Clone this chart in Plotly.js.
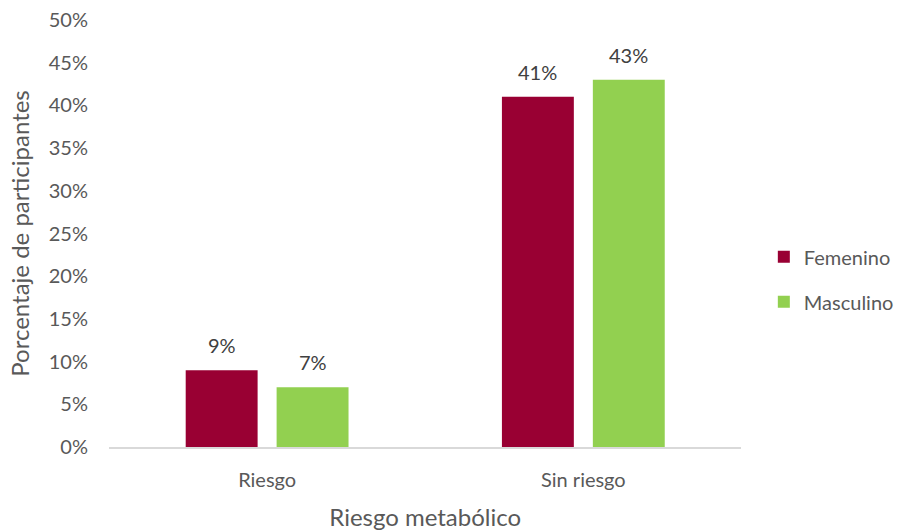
<!DOCTYPE html>
<html>
<head>
<meta charset="utf-8">
<script src="https://cdn.plot.ly/plotly-3.0.1.min.js"></script>
<style>html,body{margin:0;padding:0;background:#fff;}#chart{width:907px;height:531px;}</style>
</head>
<body>
<div id="chart"></div>
<script>
const categories = ["Riesgo", "Sin riesgo"];
const femenino = [0.09, 0.41];
const masculino = [0.07, 0.43];
const seriesNames = ["Femenino", "Masculino"];

const fontFam = "Lato, 'Open Sans', sans-serif";
const txtColor = "#595959";

const traces = [
  {type: "bar", name: seriesNames[0], x: categories, y: femenino, legendgroup: "f",
   marker: {color: "#990033"}, hoverinfo: "none"},
  {type: "bar", name: seriesNames[1], x: categories, y: masculino, legendgroup: "m",
   marker: {color: "#92D050"}, hoverinfo: "none"}
];

const annotations = [];
[femenino, masculino].forEach((vals, si) => {
  vals.forEach((v, i) => {
    annotations.push({
      x: categories[i], y: v, xref: "x", yref: "y",
      text: Math.round(v * 100) + "%", showarrow: false,
      xanchor: "center", yanchor: "bottom",
      xshift: si === 0 ? -45.6 : 45.6, yshift: 11,
      font: {size: 20, color: "#404040", family: fontFam}
    });
  });
});

const layout = {
  width: 907, height: 531,
  margin: {l: 109, r: 8, t: 20, b: 84},
  paper_bgcolor: "#fff", plot_bgcolor: "#fff",
  font: {family: fontFam, color: txtColor, size: 20},
  barmode: "group", bargap: 0.425, bargroupgap: 0.209,
  showlegend: true,
  annotations: annotations,
  legend: {x: 0.831, xanchor: "left", y: 0.393, yanchor: "middle", traceorder: "grouped", tracegroupgap: 16,
           font: {size: 20, color: txtColor, family: fontFam}},
  xaxis: {
    domain: [0, 0.8026],
    title: {text: "Riesgo metabólico", font: {size: 24, color: txtColor}, standoff: 19},
    showline: true, linecolor: "#d9d9d9", linewidth: 1.5, ticks: "", showgrid: false,
    tickfont: {size: 20, color: txtColor}, ticklabelstandoff: 14
  },
  yaxis: {
    title: {text: "Porcentaje de participantes", font: {size: 24, color: txtColor}, standoff: 12},
    range: [0, 0.5], dtick: 0.05, tick0: 0, tickformat: ".0%",
    showgrid: false, zeroline: false, showline: false, ticks: "",
    tickfont: {size: 20, color: txtColor}, ticklabelstandoff: 20
  }
};

Plotly.newPlot("chart", traces, layout, {displayModeBar: false, staticPlot: true});
</script>
</body>
</html>
